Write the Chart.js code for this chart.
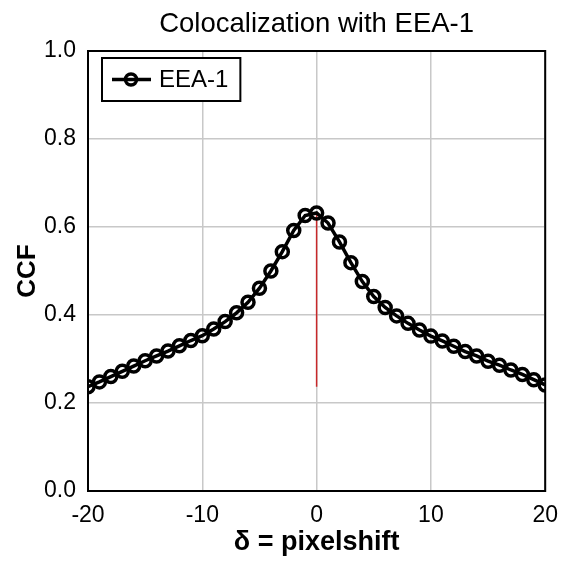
<!DOCTYPE html>
<html>
<head>
<meta charset="utf-8">
<script src="https://cdn.jsdelivr.net/npm/chart.js@4.4.1/dist/chart.umd.min.js"></script>
<style>
  html, body { margin: 0; padding: 0; background: #fff; }
</style>
</head>
<body>
<canvas id="chart" width="569" height="568"></canvas>
<script>
// pixel shift (delta) and cross-correlation values
const shifts = [-20, -19, -18, -17, -16, -15, -14, -13, -12, -11, -10, -9, -8, -7, -6, -5, -4, -3, -2, -1,
    0, 1, 2, 3, 4, 5, 6, 7, 8, 9, 10, 11, 12, 13, 14, 15, 16, 17, 18, 19, 20];
const ccfValues = [0.237, 0.248, 0.260, 0.272, 0.284, 0.296, 0.307, 0.318, 0.330, 0.342, 0.353, 0.368, 0.385, 0.405, 0.429, 0.461, 0.500, 0.544, 0.592, 0.626,
    0.632, 0.609, 0.566, 0.519, 0.476, 0.442, 0.417, 0.398, 0.381, 0.366, 0.352, 0.341, 0.329, 0.317, 0.307, 0.295, 0.286, 0.275, 0.265, 0.253, 0.241];
// red marker at delta = 0
const markerX = [0, 0];
const markerY = [0.237, 0.628];

const seriesLabel = 'EEA-1';
const xTicks = [-20, -10, 0, 10, 20];
const yTicks = [0, 0.2, 0.4, 0.6, 0.8, 1.0];

const fontFamily = '"Liberation Sans", Arial, sans-serif';

// frame round the plot area + legend box inside it
const framePlugin = {
    id: 'frame',
    beforeDatasetsDraw(chart) {
        const {ctx, chartArea: a} = chart;
        ctx.save();
        ctx.strokeStyle = '#000';
        ctx.lineWidth = 2;
        ctx.strokeRect(a.left, a.top, a.right - a.left, a.bottom - a.top);
        ctx.restore();
    },
    afterDraw(chart) {
        const {ctx, chartArea: a} = chart;
        const ds = chart.data.datasets[0];
        ctx.save();
        ctx.font = '24px ' + fontFamily;
        const tw = ctx.measureText(ds.label).width;
        const bx = a.left + 14, by = a.top + 7;
        const bw = 10 + 39 + 8 + tw + 12, bh = 43;
        ctx.fillStyle = '#fff';
        ctx.fillRect(bx, by, bw, bh);
        ctx.strokeStyle = '#000';
        ctx.lineWidth = 2;
        ctx.strokeRect(bx, by, bw, bh);
        const cy = by + bh / 2;
        ctx.lineWidth = ds.borderWidth;
        ctx.beginPath();
        ctx.moveTo(bx + 10, cy);
        ctx.lineTo(bx + 49, cy);
        ctx.stroke();
        ctx.beginPath();
        ctx.arc(bx + 29, cy, ds.pointRadius - 0.5, 0, Math.PI * 2);
        ctx.stroke();
        ctx.fillStyle = '#000';
        ctx.textBaseline = 'middle';
        ctx.fillText(ds.label, bx + 57, cy + 1);
        ctx.restore();
    }
};

const ctx = document.getElementById('chart').getContext('2d');

new Chart(ctx, {
    type: 'line',
    data: {
        datasets: [
            {
                label: seriesLabel,
                data: shifts.map((x, i) => ({x: x, y: ccfValues[i]})),
                borderColor: '#000',
                borderWidth: 3.5,
                pointRadius: 6,
                pointBorderWidth: 3.5,
                pointBorderColor: '#000',
                pointBackgroundColor: 'rgba(0,0,0,0)',
                fill: false,
                tension: 0,
                order: 0,
            },
            {
                label: 'marker',
                data: markerX.map((x, i) => ({x: x, y: markerY[i]})),
                borderColor: '#c8282a',
                borderWidth: 1.5,
                pointRadius: 0,
                fill: false,
                order: 1,
            }
        ]
    },
    options: {
        responsive: false,
        animation: false,
        layout: {
            padding: {left: 0, right: 23, top: 0, bottom: 0}
        },
        scales: {
            x: {
                type: 'linear',
                min: -20,
                max: 20,
                afterBuildTicks: (scale) => { scale.ticks = xTicks.map(v => ({value: v})); },
                afterFit: (scale) => { scale.height = 77; },
                grid: {
                    color: '#c8c8c8',
                    lineWidth: 1.5,
                    drawTicks: false,
                },
                border: {display: false},
                ticks: {
                    color: '#000',
                    padding: 11,
                    font: {family: fontFamily, size: 23},
                    callback: (val) => val,
                },
                title: {
                    display: true,
                    text: 'δ = pixelshift',
                    color: '#000',
                    font: {family: fontFamily, size: 27, weight: 'bold'},
                    padding: {top: 0, bottom: 9},
                }
            },
            y: {
                type: 'linear',
                min: 0,
                max: 1,
                afterBuildTicks: (scale) => { scale.ticks = yTicks.map(v => ({value: v})); },
                afterFit: (scale) => { scale.width = 88; },
                grid: {
                    color: '#c8c8c8',
                    lineWidth: 1.5,
                    drawTicks: false,
                },
                border: {display: false},
                ticks: {
                    color: '#000',
                    padding: 12,
                    font: {family: fontFamily, size: 23},
                    callback: (val) => Number(val).toFixed(1),
                },
                title: {
                    display: true,
                    text: 'CCF',
                    color: '#000',
                    font: {family: fontFamily, size: 26, weight: 'bold'},
                    padding: {top: 12, bottom: 0},
                }
            }
        },
        plugins: {
            legend: {display: false},
            tooltip: {enabled: false},
            title: {
                display: true,
                text: 'Colocalization with EEA-1',
                color: '#000',
                fullSize: false,
                font: {family: fontFamily, size: 27.5, weight: 'normal'},
                padding: {top: 8, bottom: 10},
            }
        }
    },
    plugins: [framePlugin]
});
</script>
</body>
</html>
